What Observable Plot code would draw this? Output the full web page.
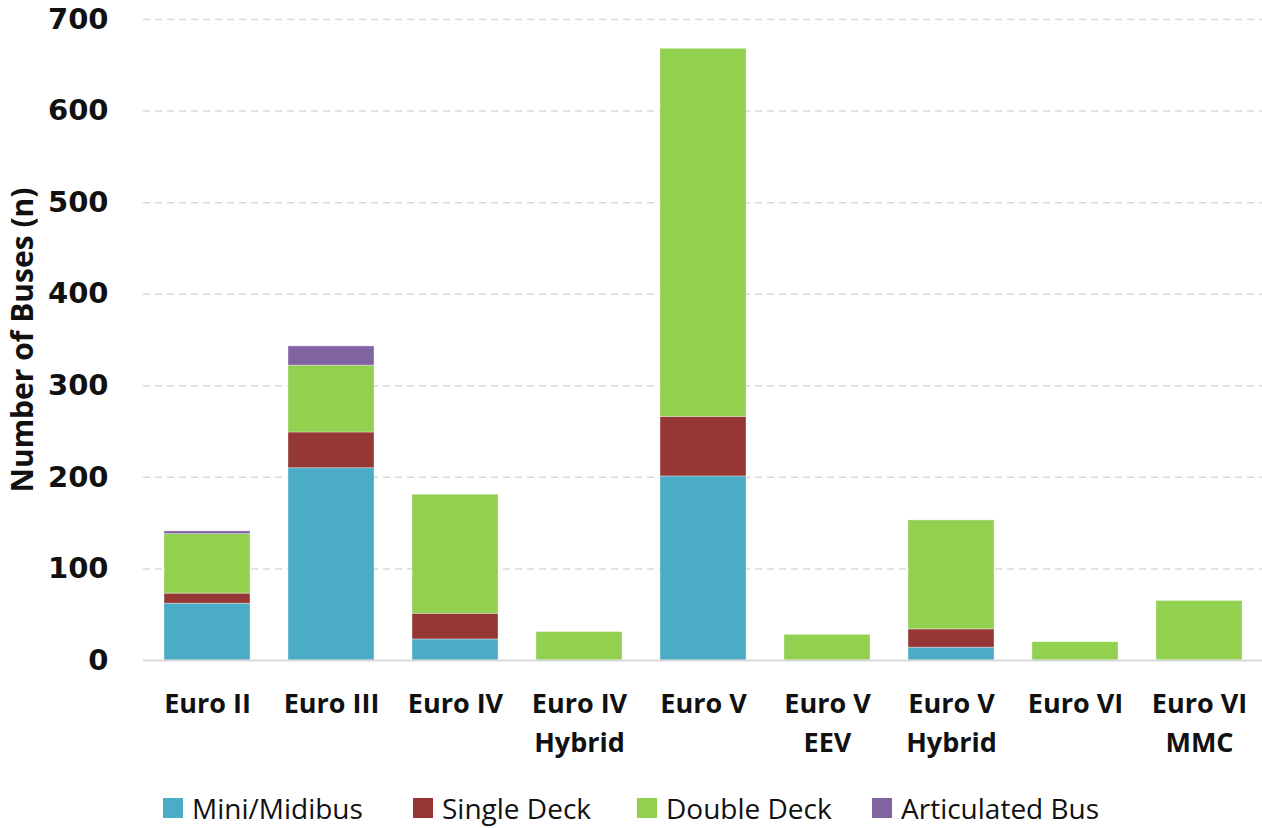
<!DOCTYPE html>
<html>
<head>
<meta charset="utf-8">
<script src="https://cdn.jsdelivr.net/npm/d3@7"></script>
<script src="https://cdn.jsdelivr.net/npm/@observablehq/plot@0.6"></script>
<style>
  body { margin: 0; background: #fff; font-family: "Open Sans", sans-serif; }
  #wrap { position: relative; width: 1262px; height: 828px; overflow: hidden; }
  #legend { position: absolute; top: 790px; left: 0; width: 1262px; height: 36px; }
  .item { position: absolute; top: 0; display: flex; align-items: center; font-size: 28px; color: #111; height: 36px; white-space: nowrap; }
  .sw { width: 20px; height: 20px; margin-right: 9px; flex: none; }
</style>
</head>
<body>
<div id="wrap"><div id="chart"></div><div id="legend"></div></div>
<script>
const categories = ["Euro II", "Euro III", "Euro IV", "Euro IV\nHybrid", "Euro V", "Euro V\nEEV", "Euro V\nHybrid", "Euro VI", "Euro VI\nMMC"];
const seriesNames = ["Mini/Midibus", "Single Deck", "Double Deck", "Articulated Bus"];
const seriesColors = ["#4BACC6", "#953735", "#92D050", "#8064A2"];
const miniMidibus    = [62, 210, 23, 0, 201, 0, 14, 0, 0];
const singleDeck     = [11, 39, 28, 0, 65, 0, 20, 0, 0];
const doubleDeck     = [65, 73, 130, 31, 402, 28, 119, 20, 65];
const articulatedBus = [3, 21, 0, 0, 0, 0, 0, 0, 0];
const yTicks = [0, 100, 200, 300, 400, 500, 600, 700];

const seriesValues = [miniMidibus, singleDeck, doubleDeck, articulatedBus];
const rows = [];
seriesNames.forEach((s, i) => categories.forEach((c, j) => rows.push({category: c, series: s, value: seriesValues[i][j]})));

const chart = Plot.plot({
  width: 1262,
  height: 775,
  marginLeft: 143,
  marginRight: 0,
  marginTop: 19,
  marginBottom: 115,
  style: {overflow: "visible", background: "transparent"},
  x: {domain: categories, paddingInner: 0.31, paddingOuter: 0.153, label: null},
  y: {domain: [0, 700], label: null},
  color: {domain: seriesNames, range: seriesColors},
  marks: [
    Plot.ruleY(yTicks.filter(d => d > 0), {stroke: "#d9d9d9", strokeWidth: 1.5, strokeDasharray: "7,5"}),
    Plot.barY(rows, {x: "category", y: "value", fill: "series", order: seriesNames, stroke: "#fff", strokeOpacity: 0.35, strokeWidth: 1}),
    Plot.ruleY([0], {stroke: "#d9d9d9", strokeWidth: 2}),
    Plot.axisY({ticks: yTicks, tickSize: 0, tickPadding: 35, fontSize: 29, fontWeight: "bold", fontFamily: "DejaVu Sans", fill: "#111", label: null}),
    Plot.axisX({tickSize: 0, tickPadding: 25, fontSize: 27, fontWeight: "bold", fontFamily: "Open Sans", fill: "#111", lineHeight: 1.45, label: null}),
    Plot.text(["Number of Buses (n)"], {frameAnchor: "left", textAnchor: "middle", rotate: -90, dx: -120, fontSize: 30, fontWeight: "bold", fontFamily: "Open Sans", fill: "#111"})
  ]
});
document.getElementById("chart").appendChild(chart);

const legendLefts = [163, 413, 637, 872];
const legend = document.getElementById("legend");
seriesNames.forEach((s, i) => {
  const it = document.createElement("div");
  it.className = "item";
  it.style.left = legendLefts[i] + "px";
  it.innerHTML = `<span class="sw" style="background:${seriesColors[i]}"></span><span>${s}</span>`;
  legend.appendChild(it);
});
</script>
</body>
</html>
